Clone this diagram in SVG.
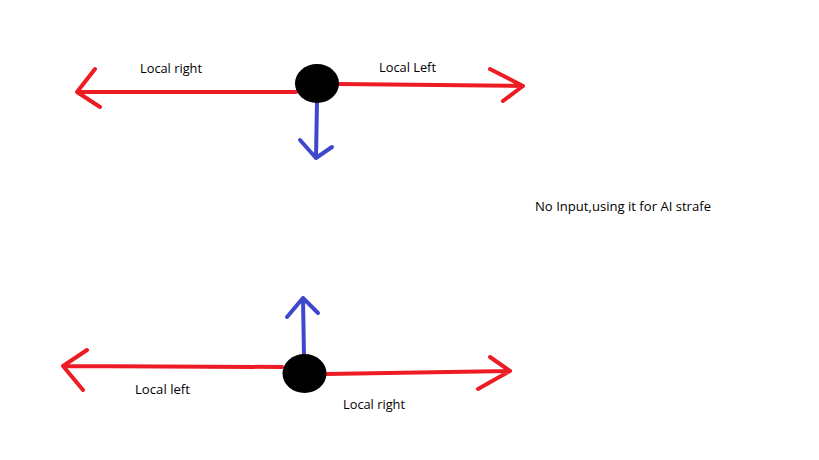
<svg xmlns="http://www.w3.org/2000/svg" width="819" height="460" viewBox="0 0 819 460">
<style>
.red{fill:none;stroke:#ED1C24;stroke-width:4;stroke-linecap:round;stroke-linejoin:round}
.blue{fill:none;stroke:#3F48CC;stroke-width:4;stroke-linecap:round;stroke-linejoin:round}
.dot{fill:#000}
.lbl{font-family:"Open Sans","Liberation Sans",Arial,sans-serif;font-size:12px;fill:#000}
</style>
<rect width="819" height="460" fill="#fff"/>
<g id="connectors">
<path class="red" d="M296 92 L77 92 M95 69 L77 92 L100 107"/>
<path class="red" d="M339 84 L523 86 M490 69 L523 86 L503 101"/>
<path class="blue" d="M317 101 L316 158 M300 140 L316 158 L332 147"/>
<path class="red" d="M282 367 L63 366 M87 350 L63 366 L83 390"/>
<path class="red" d="M326 374 L510 371 M490 357 L510 371 L478 389"/>
<path class="blue" d="M304 357 L303 298 M287 317 L303 298 L318 313"/>
</g>
<g id="node-top"><ellipse class="dot" cx="317" cy="83.5" rx="22" ry="19.5"/></g>
<g id="node-bottom"><ellipse class="dot" cx="304.5" cy="373.5" rx="22" ry="19.5"/></g>
<g id="label-top-right"><text class="lbl" x="140" y="73" textLength="62" lengthAdjust="spacingAndGlyphs">Local right</text></g>
<g id="label-top-left"><text class="lbl" x="379" y="72" textLength="57" lengthAdjust="spacingAndGlyphs">Local Left</text></g>
<g id="label-bottom-left"><text class="lbl" x="135" y="394" textLength="55" lengthAdjust="spacingAndGlyphs">Local left</text></g>
<g id="label-bottom-right"><text class="lbl" x="343" y="409" textLength="62" lengthAdjust="spacingAndGlyphs">Local right</text></g>
<g id="label-note"><text class="lbl" x="535" y="211" textLength="176" lengthAdjust="spacingAndGlyphs">No Input,using it for AI strafe</text></g>
</svg>
